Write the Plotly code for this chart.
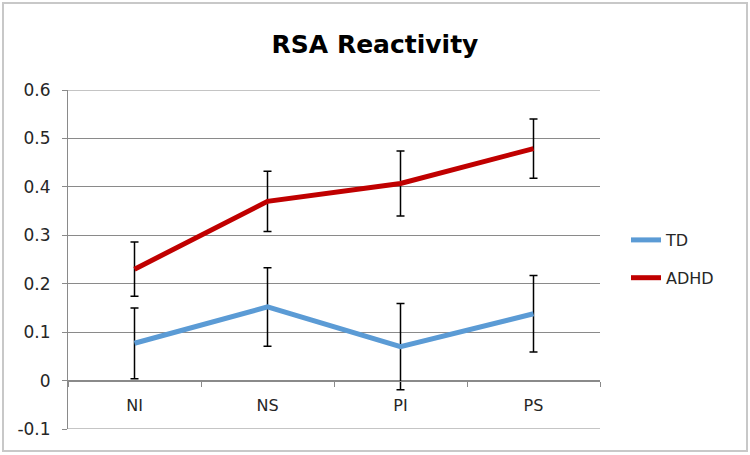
import plotly.graph_objects as go

categories = ["NI", "NS", "PI", "PS"]
td_values = [0.077, 0.152, 0.070, 0.138]
td_errors = [0.073, 0.081, 0.089, 0.079]
adhd_values = [0.230, 0.370, 0.407, 0.479]
adhd_errors = [0.056, 0.062, 0.067, 0.061]
y_tick_vals = [-0.1, 0, 0.1, 0.2, 0.3, 0.4, 0.5, 0.6]
y_tick_text = ["-0.1", "0", "0.1", "0.2", "0.3", "0.4", "0.5", "0.6"]
y_min, y_max = -0.1, 0.6

FONT = "DejaVu Sans"
TXT = "#262626"
GRID = "#8A8A8A"

fig = go.Figure()
fig.add_trace(go.Scatter(
    x=categories, y=td_values, name="TD", mode="lines", legendgroup="td",
    line=dict(color="#5B9BD5", width=5),
    error_y=dict(type="data", array=td_errors, visible=True,
                 color="black", thickness=1.5, width=4),
))
fig.add_trace(go.Scatter(
    x=categories, y=adhd_values, name="ADHD", mode="lines", legendgroup="adhd",
    line=dict(color="#C00000", width=5),
    error_y=dict(type="data", array=adhd_errors, visible=True,
                 color="black", thickness=1.5, width=4),
))

fig.update_layout(
    width=750, height=455,
    margin=dict(l=68, r=150, t=90, b=26),
    paper_bgcolor="white", plot_bgcolor="white",
    font=dict(family=FONT, size=16, color=TXT),
    title=dict(text="<b>RSA Reactivity</b>", x=0.5, xanchor="center",
               xref="container", y=1 - 44 / 455, yref="container", yanchor="middle",
               font=dict(family=FONT, size=25, color="black")),
    showlegend=True,
    legend=dict(x=(626 - 68) / 532, xanchor="left", y=(429 - 259) / 339, yanchor="middle",
                bgcolor="rgba(0,0,0,0)", font=dict(size=16, color=TXT),
                tracegroupgap=14, itemwidth=30),
    xaxis=dict(
        type="category", range=[-0.5, 3.5],
        anchor="free", position=0.1 / 0.7,
        showline=True, linecolor=GRID, linewidth=1,
        ticks="outside", tickson="boundaries", ticklen=5, tickcolor=GRID,
        ticklabelstandoff=10,
        showgrid=False, tickfont=dict(size=16, color=TXT),
    ),
    yaxis=dict(
        range=[y_min, y_max], tickvals=y_tick_vals, ticktext=y_tick_text,
        showline=True, linecolor=GRID, linewidth=1,
        ticks="outside", ticklen=5, tickcolor=GRID, ticklabelstandoff=8,
        showgrid=True, gridcolor=GRID, gridwidth=1,
        zeroline=False, tickfont=dict(size=17, color=TXT),
    ),
    shapes=[
        dict(type="rect", xref="paper", yref="paper",
             x0=(3 - 68) / 532, x1=(747 - 68) / 532,
             y0=(429 - 451) / 339, y1=(429 - 3) / 339,
             line=dict(color="#C8C8C8", width=2), layer="below"),
        dict(type="line", xref="paper", yref="y", x0=0, x1=1, y0=y_max, y1=y_max,
             line=dict(color=GRID, width=1), layer="below"),
        dict(type="line", xref="paper", yref="y", x0=0, x1=1, y0=y_min, y1=y_min,
             line=dict(color=GRID, width=1), layer="below"),
    ],
)

fig.write_html("out.html", config={"displayModeBar": False},
               post_script="document.body.style.margin='0';")
